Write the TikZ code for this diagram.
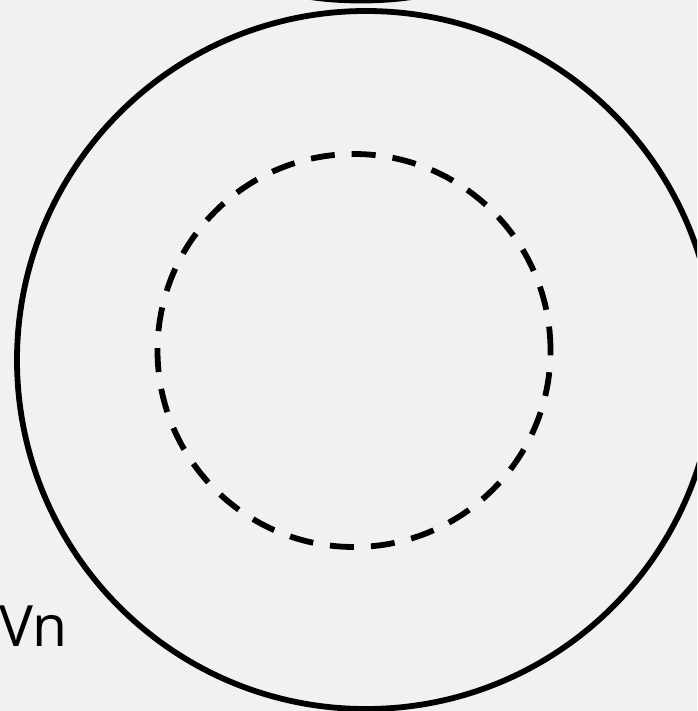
\documentclass[tikz,border=0pt]{standalone}
\usepackage{fontspec}
\setmainfont{Open Sans}
\begin{document}
\begin{tikzpicture}[x=1pt,y=-1pt,
  solidring/.style={draw=black,line width=5.8pt},
  dashring/.style={draw=black,line width=5.8pt,dash pattern=on 24pt off 17pt}]
\fill[fill={rgb,255:red,241;green,241;blue,241}] (0,0) rectangle (697,711);
\useasboundingbox (0,0) rectangle (697,711);
\begin{scope}
\clip (0,0) rectangle (697,711);
\draw[solidring] (361,-25) ellipse [x radius=100, y radius=25.5];
\node[draw=none,circle,minimum size=698pt,inner sep=0pt,solidring] (outer) at (366,360) {};
\end{scope}
\node[draw=none,circle,minimum size=393pt,inner sep=0pt,dashring] (inner) at (354,350.5) {};
\node[anchor=base west,inner sep=0pt,font=\fontsize{57pt}{60pt}\selectfont] (vn) at (-1,646) {Vn};
\end{tikzpicture}
\end{document}
